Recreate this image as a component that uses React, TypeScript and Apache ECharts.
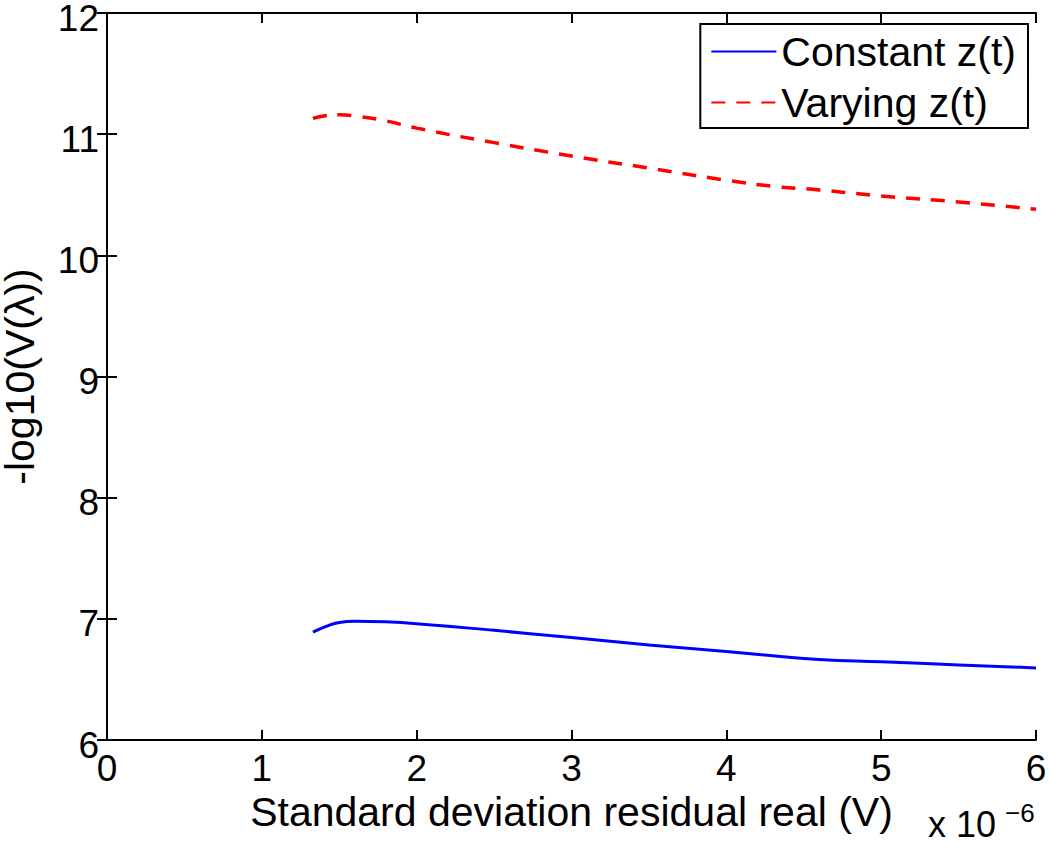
import React, { useEffect, useRef } from "react";
import * as echarts from "echarts";

const constantX = [1.33, 1.42, 1.5, 1.6, 1.8, 2.0, 2.5, 3.0, 3.5, 4.0, 4.3, 4.6, 5.0, 5.5, 6.0];
const constantY = [6.89, 6.94, 6.97, 6.98, 6.975, 6.96, 6.905, 6.845, 6.785, 6.73, 6.695, 6.665, 6.645, 6.62, 6.595];
const varyingX = [1.33, 1.4, 1.5, 1.6, 1.8, 2.0, 2.5, 3.0, 3.5, 4.0, 4.3, 4.6, 5.0, 5.5, 6.0];
const varyingY = [11.13, 11.15, 11.16, 11.15, 11.11, 11.05, 10.93, 10.82, 10.72, 10.62, 10.57, 10.54, 10.49, 10.44, 10.38];

const seriesNames = ["Constant z(t)", "Varying z(t)"];
const xTickMin = 0, xTickMax = 6, yTickMin = 6, yTickMax = 12;

export default function App() {
  const ref = useRef<HTMLDivElement>(null);
  useEffect(() => {
    const chart = echarts.init(ref.current!, null, { renderer: "svg" });
    const font = "Arial, 'Liberation Sans', sans-serif";
    const axisCommon = {
      axisLine: { show: true, lineStyle: { color: "#000", width: 2 } },
      axisTick: { show: true, inside: true, length: 10, lineStyle: { color: "#000", width: 2 } },
      splitLine: { show: false },
    };
    chart.setOption({
      animation: false,
      backgroundColor: "#fff",
      grid: { left: 107, right: 14, top: 13, bottom: 108, containLabel: false, outerBoundsMode: "none" },
      legend: {
        data: seriesNames,
        orient: "vertical",
        right: 22,
        top: 24,
        itemWidth: 65,
        itemHeight: 14,
        itemGap: 10,
        padding: [7, 12, 5, 10],
        borderColor: "#000",
        borderWidth: 2,
        backgroundColor: "#fff",
        itemStyle: { opacity: 0 },
        textStyle: { fontSize: 41, lineHeight: 41, color: "#000", fontFamily: font },
      },
      xAxis: [
        {
          type: "value",
          min: xTickMin,
          max: xTickMax,
          interval: 1,
          position: "bottom",
          name: "Standard deviation residual real (V)",
          nameLocation: "middle",
          nameGap: 50,
          nameTextStyle: { fontSize: 41, color: "#000", fontFamily: font },
          axisLabel: { fontSize: 37, color: "#000", fontFamily: font, margin: 10 },
          ...axisCommon,
        },
        {
          type: "value",
          min: xTickMin,
          max: xTickMax,
          interval: 1,
          position: "top",
          axisLabel: { show: false },
          ...axisCommon,
        },
      ],
      yAxis: [
        {
          type: "value",
          min: yTickMin,
          max: yTickMax,
          interval: 1,
          position: "left",
          name: "-log10(V(λ))",
          nameLocation: "middle",
          nameGap: 67,
          nameTextStyle: { fontSize: 41, color: "#000", fontFamily: font },
          axisLabel: {
            fontSize: 37,
            color: "#000",
            fontFamily: font,
            margin: 8,
            formatter: (v: number) => `{a|${v}}`,
            rich: { a: { fontSize: 37, color: "#000", fontFamily: font, padding: [10, 0, 0, 0] } },
          },
          ...axisCommon,
        },
        {
          type: "value",
          min: yTickMin,
          max: yTickMax,
          interval: 1,
          position: "right",
          axisLabel: { show: false },
          ...axisCommon,
        },
      ],
      graphic: [
        {
          type: "text",
          left: 928,
          top: 806,
          style: { text: "x 10", fontSize: 36, fill: "#000", fontFamily: font },
        },
        {
          type: "text",
          left: 1005,
          top: 800,
          style: { text: "−6", fontSize: 26, fill: "#000", fontFamily: font },
        },
      ],
      series: [
        {
          name: seriesNames[0],
          type: "line",
          symbol: "none",
          smooth: true,
          data: constantX.map((x, i) => [x, constantY[i]]),
          lineStyle: { color: "#0000ff", width: 3, type: "solid" },
          itemStyle: { color: "#0000ff" },
        },
        {
          name: seriesNames[1],
          type: "line",
          symbol: "none",
          smooth: true,
          data: varyingX.map((x, i) => [x, varyingY[i]]),
          lineStyle: { color: "#ff0000", width: 3.5, type: [14, 11] },
          itemStyle: { color: "#ff0000" },
        },
      ],
    });
    return () => chart.dispose();
  }, []);
  return <div ref={ref} style={{ width: 1050, height: 848, position: "absolute", left: 0, top: 0 }} />;
}
